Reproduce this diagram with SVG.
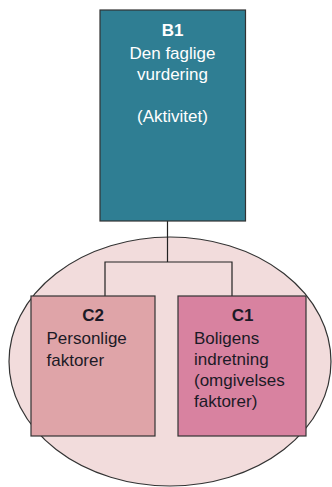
<svg xmlns="http://www.w3.org/2000/svg" width="332" height="487" viewBox="0 0 332 487">
  <style>
    .box { stroke: #333333; stroke-width: 1.2; }
    .t { font-family: "Liberation Sans", Arial, sans-serif; font-size: 17px; }
    .dark { fill: #1c1a26; }
    .light { fill: #ffffff; }
    .b { font-weight: bold; }
    .conn { fill: none; stroke: #222222; stroke-width: 1.2; }
  </style>
  <rect width="332" height="487" fill="#ffffff"/>
  <g id="group-ellipse">
    <ellipse cx="170" cy="361.5" rx="161" ry="124.5" fill="#f2dcdc" stroke="#333333" stroke-width="1.2"/>
  </g>
  <g id="connectors">
    <path class="conn" d="M167.5,221 V262 M105,296 V262 H232 V296"/>
  </g>
  <g id="B1">
    <rect class="box" x="100" y="10" width="145.5" height="211" fill="#2f7e93"/>
    <text class="t light b" x="172.5" y="36" text-anchor="middle">B1</text>
    <text class="t light" x="172.5" y="59" text-anchor="middle">Den faglige</text>
    <text class="t light" x="172.5" y="80" text-anchor="middle">vurdering</text>
    <text class="t light" x="172.5" y="122" text-anchor="middle">(Aktivitet)</text>
  </g>
  <g id="C2">
    <rect class="box" x="31" y="296" width="124" height="140" fill="#dfa4a8"/>
    <text class="t dark b" x="93" y="321" text-anchor="middle">C2</text>
    <text class="t dark" x="46.5" y="344">Personlige</text>
    <text class="t dark" x="46.5" y="365.5">faktorer</text>
  </g>
  <g id="C1">
    <rect class="box" x="178" y="296" width="128" height="140" fill="#d882a0"/>
    <text class="t dark b" x="242.5" y="321" text-anchor="middle">C1</text>
    <text class="t dark" x="194" y="343.5">Boligens</text>
    <text class="t dark" x="194" y="365">indretning</text>
    <text class="t dark" x="194" y="386">(omgivelses</text>
    <text class="t dark" x="194" y="407">faktorer)</text>
  </g>
</svg>
